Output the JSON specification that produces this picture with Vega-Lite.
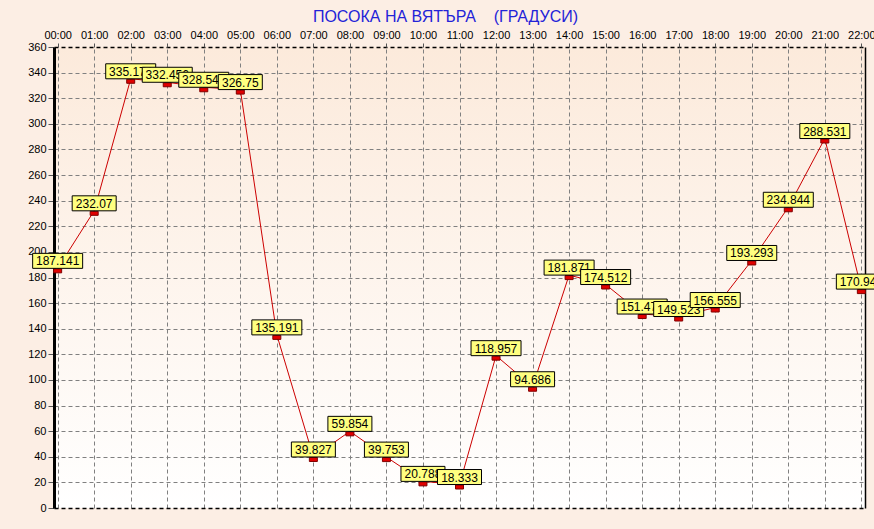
{
  "$schema": "https://vega.github.io/schema/vega-lite/v6.json",
  "width": 811,
  "height": 461,
  "autosize": "none",
  "padding": {"left": 54, "top": 47, "right": 9, "bottom": 21},
  "background": "#FCEEE4",
  "config": {
    "font": "Liberation Sans",
    "view": {
      "stroke": null,
      "fill": {"gradient": "linear", "x1": 0, "y1": 0, "x2": 0, "y2": 1,
        "stops": [{"offset": 0, "color": "#FCEADB"}, {"offset": 1, "color": "#FFFFFF"}]}
    }
  },
  "title": {
    "text": "ПОСОКА НА ВЯТЪРА\u00a0\u00a0\u00a0 (ГРАДУСИ)",
    "font": "Liberation Sans",
    "fontSize": 16,
    "fontWeight": "normal",
    "color": "#2323D8",
    "anchor": "middle",
    "dx": -14
  },
  "data": {"values": [
    {"t": "00:00", "v": 187.141},
    {"t": "01:00", "v": 232.07},
    {"t": "02:00", "v": 335.174},
    {"t": "03:00", "v": 332.456},
    {"t": "04:00", "v": 328.547},
    {"t": "05:00", "v": 326.75},
    {"t": "06:00", "v": 135.191},
    {"t": "07:00", "v": 39.827},
    {"t": "08:00", "v": 59.854},
    {"t": "09:00", "v": 39.753},
    {"t": "10:00", "v": 20.788},
    {"t": "11:00", "v": 18.333},
    {"t": "12:00", "v": 118.957},
    {"t": "13:00", "v": 94.686},
    {"t": "14:00", "v": 181.871},
    {"t": "15:00", "v": 174.512},
    {"t": "16:00", "v": 151.472},
    {"t": "17:00", "v": 149.523},
    {"t": "18:00", "v": 156.555},
    {"t": "19:00", "v": 193.293},
    {"t": "20:00", "v": 234.844},
    {"t": "21:00", "v": 288.531},
    {"t": "22:00", "v": 170.941}
  ]},
  "encoding": {
    "x": {"field": "t", "type": "ordinal", "sort": null,
      "scale": {"type": "point", "padding": 0.1},
      "axis": {"orient": "top", "title": null, "labelAngle": 0, "labelFontSize": 11, "labelColor": "#000000",
        "labelFont": "Liberation Sans", "tickSize": 4, "tickColor": "#555555", "labelPadding": 3, "domain": false,
        "grid": true, "gridColor": "#808080", "gridDash": [4, 3], "gridWidth": 1}}
  },
  "layer": [
    {
      "encoding": {
        "y": {"field": "v", "type": "quantitative",
          "scale": {"domain": [0, 360], "nice": false, "zero": true},
          "axis": {"title": null, "values": [0,20,40,60,80,100,120,140,160,180,200,220,240,260,280,300,320,340,360],
            "labelFontSize": 11, "labelColor": "#000000", "labelFont": "Liberation Sans", "tickSize": 6, "tickColor": "#555555",
            "labelPadding": 2, "domainColor": "#000000", "domainWidth": 3,
            "grid": true,
            "gridColor": {"condition": {"test": "datum.value === 0 || datum.value === 360", "value": "#000000"}, "value": "#808080"},
            "gridWidth": {"condition": {"test": "datum.value === 0 || datum.value === 360", "value": 1.5}, "value": 1},
            "gridDash": [4, 3]}}
      },
      "layer": [
        {"mark": {"type": "line", "color": "#CC0000", "strokeWidth": 1}},
        {"mark": {"type": "point", "shape": "M-4,0.5H4V4.5H-4Z", "size": 4, "filled": true, "fill": "#E00000", "stroke": "#800000", "strokeWidth": 1, "opacity": 1}},
        {"transform": [{"filter": "datum.t === '00:00'"}], "layer": [
          {"mark": {"type": "point", "shape": "M-25,-15H25V0H-25Z", "size": 4, "filled": true, "fill": "#FFFF80", "stroke": "#000000", "strokeWidth": 1, "opacity": 1}},
          {"mark": {"type": "text", "fontSize": 12, "color": "#000000", "baseline": "middle", "dy": -7}, "encoding": {"text": {"field": "v", "type": "nominal"}}}]},
        {"transform": [{"filter": "datum.t === '01:00'"}], "layer": [
          {"mark": {"type": "point", "shape": "M-22,-15H22V0H-22Z", "size": 4, "filled": true, "fill": "#FFFF80", "stroke": "#000000", "strokeWidth": 1, "opacity": 1}},
          {"mark": {"type": "text", "fontSize": 12, "color": "#000000", "baseline": "middle", "dy": -7}, "encoding": {"text": {"field": "v", "type": "nominal"}}}]},
        {"transform": [{"filter": "datum.t === '02:00'"}], "layer": [
          {"mark": {"type": "point", "shape": "M-25,-15H25V0H-25Z", "size": 4, "filled": true, "fill": "#FFFF80", "stroke": "#000000", "strokeWidth": 1, "opacity": 1}},
          {"mark": {"type": "text", "fontSize": 12, "color": "#000000", "baseline": "middle", "dy": -7}, "encoding": {"text": {"field": "v", "type": "nominal"}}}]},
        {"transform": [{"filter": "datum.t === '03:00'"}], "layer": [
          {"mark": {"type": "point", "shape": "M-25,-15H25V0H-25Z", "size": 4, "filled": true, "fill": "#FFFF80", "stroke": "#000000", "strokeWidth": 1, "opacity": 1}},
          {"mark": {"type": "text", "fontSize": 12, "color": "#000000", "baseline": "middle", "dy": -7}, "encoding": {"text": {"field": "v", "type": "nominal"}}}]},
        {"transform": [{"filter": "datum.t === '04:00'"}], "layer": [
          {"mark": {"type": "point", "shape": "M-25,-15H25V0H-25Z", "size": 4, "filled": true, "fill": "#FFFF80", "stroke": "#000000", "strokeWidth": 1, "opacity": 1}},
          {"mark": {"type": "text", "fontSize": 12, "color": "#000000", "baseline": "middle", "dy": -7}, "encoding": {"text": {"field": "v", "type": "nominal"}}}]},
        {"transform": [{"filter": "datum.t === '05:00'"}], "layer": [
          {"mark": {"type": "point", "shape": "M-22,-15H22V0H-22Z", "size": 4, "filled": true, "fill": "#FFFF80", "stroke": "#000000", "strokeWidth": 1, "opacity": 1}},
          {"mark": {"type": "text", "fontSize": 12, "color": "#000000", "baseline": "middle", "dy": -7}, "encoding": {"text": {"field": "v", "type": "nominal"}}}]},
        {"transform": [{"filter": "datum.t === '06:00'"}], "layer": [
          {"mark": {"type": "point", "shape": "M-25,-15H25V0H-25Z", "size": 4, "filled": true, "fill": "#FFFF80", "stroke": "#000000", "strokeWidth": 1, "opacity": 1}},
          {"mark": {"type": "text", "fontSize": 12, "color": "#000000", "baseline": "middle", "dy": -7}, "encoding": {"text": {"field": "v", "type": "nominal"}}}]},
        {"transform": [{"filter": "datum.t === '07:00'"}], "layer": [
          {"mark": {"type": "point", "shape": "M-22,-15H22V0H-22Z", "size": 4, "filled": true, "fill": "#FFFF80", "stroke": "#000000", "strokeWidth": 1, "opacity": 1}},
          {"mark": {"type": "text", "fontSize": 12, "color": "#000000", "baseline": "middle", "dy": -7}, "encoding": {"text": {"field": "v", "type": "nominal"}}}]},
        {"transform": [{"filter": "datum.t === '08:00'"}], "layer": [
          {"mark": {"type": "point", "shape": "M-22,-15H22V0H-22Z", "size": 4, "filled": true, "fill": "#FFFF80", "stroke": "#000000", "strokeWidth": 1, "opacity": 1}},
          {"mark": {"type": "text", "fontSize": 12, "color": "#000000", "baseline": "middle", "dy": -7}, "encoding": {"text": {"field": "v", "type": "nominal"}}}]},
        {"transform": [{"filter": "datum.t === '09:00'"}], "layer": [
          {"mark": {"type": "point", "shape": "M-22,-15H22V0H-22Z", "size": 4, "filled": true, "fill": "#FFFF80", "stroke": "#000000", "strokeWidth": 1, "opacity": 1}},
          {"mark": {"type": "text", "fontSize": 12, "color": "#000000", "baseline": "middle", "dy": -7}, "encoding": {"text": {"field": "v", "type": "nominal"}}}]},
        {"transform": [{"filter": "datum.t === '10:00'"}], "layer": [
          {"mark": {"type": "point", "shape": "M-22,-15H22V0H-22Z", "size": 4, "filled": true, "fill": "#FFFF80", "stroke": "#000000", "strokeWidth": 1, "opacity": 1}},
          {"mark": {"type": "text", "fontSize": 12, "color": "#000000", "baseline": "middle", "dy": -7}, "encoding": {"text": {"field": "v", "type": "nominal"}}}]},
        {"transform": [{"filter": "datum.t === '11:00'"}], "layer": [
          {"mark": {"type": "point", "shape": "M-22,-15H22V0H-22Z", "size": 4, "filled": true, "fill": "#FFFF80", "stroke": "#000000", "strokeWidth": 1, "opacity": 1}},
          {"mark": {"type": "text", "fontSize": 12, "color": "#000000", "baseline": "middle", "dy": -7}, "encoding": {"text": {"field": "v", "type": "nominal"}}}]},
        {"transform": [{"filter": "datum.t === '12:00'"}], "layer": [
          {"mark": {"type": "point", "shape": "M-25,-15H25V0H-25Z", "size": 4, "filled": true, "fill": "#FFFF80", "stroke": "#000000", "strokeWidth": 1, "opacity": 1}},
          {"mark": {"type": "text", "fontSize": 12, "color": "#000000", "baseline": "middle", "dy": -7}, "encoding": {"text": {"field": "v", "type": "nominal"}}}]},
        {"transform": [{"filter": "datum.t === '13:00'"}], "layer": [
          {"mark": {"type": "point", "shape": "M-22,-15H22V0H-22Z", "size": 4, "filled": true, "fill": "#FFFF80", "stroke": "#000000", "strokeWidth": 1, "opacity": 1}},
          {"mark": {"type": "text", "fontSize": 12, "color": "#000000", "baseline": "middle", "dy": -7}, "encoding": {"text": {"field": "v", "type": "nominal"}}}]},
        {"transform": [{"filter": "datum.t === '14:00'"}], "layer": [
          {"mark": {"type": "point", "shape": "M-25,-15H25V0H-25Z", "size": 4, "filled": true, "fill": "#FFFF80", "stroke": "#000000", "strokeWidth": 1, "opacity": 1}},
          {"mark": {"type": "text", "fontSize": 12, "color": "#000000", "baseline": "middle", "dy": -7}, "encoding": {"text": {"field": "v", "type": "nominal"}}}]},
        {"transform": [{"filter": "datum.t === '15:00'"}], "layer": [
          {"mark": {"type": "point", "shape": "M-25,-15H25V0H-25Z", "size": 4, "filled": true, "fill": "#FFFF80", "stroke": "#000000", "strokeWidth": 1, "opacity": 1}},
          {"mark": {"type": "text", "fontSize": 12, "color": "#000000", "baseline": "middle", "dy": -7}, "encoding": {"text": {"field": "v", "type": "nominal"}}}]},
        {"transform": [{"filter": "datum.t === '16:00'"}], "layer": [
          {"mark": {"type": "point", "shape": "M-25,-15H25V0H-25Z", "size": 4, "filled": true, "fill": "#FFFF80", "stroke": "#000000", "strokeWidth": 1, "opacity": 1}},
          {"mark": {"type": "text", "fontSize": 12, "color": "#000000", "baseline": "middle", "dy": -7}, "encoding": {"text": {"field": "v", "type": "nominal"}}}]},
        {"transform": [{"filter": "datum.t === '17:00'"}], "layer": [
          {"mark": {"type": "point", "shape": "M-25,-15H25V0H-25Z", "size": 4, "filled": true, "fill": "#FFFF80", "stroke": "#000000", "strokeWidth": 1, "opacity": 1}},
          {"mark": {"type": "text", "fontSize": 12, "color": "#000000", "baseline": "middle", "dy": -7}, "encoding": {"text": {"field": "v", "type": "nominal"}}}]},
        {"transform": [{"filter": "datum.t === '18:00'"}], "layer": [
          {"mark": {"type": "point", "shape": "M-25,-15H25V0H-25Z", "size": 4, "filled": true, "fill": "#FFFF80", "stroke": "#000000", "strokeWidth": 1, "opacity": 1}},
          {"mark": {"type": "text", "fontSize": 12, "color": "#000000", "baseline": "middle", "dy": -7}, "encoding": {"text": {"field": "v", "type": "nominal"}}}]},
        {"transform": [{"filter": "datum.t === '19:00'"}], "layer": [
          {"mark": {"type": "point", "shape": "M-25,-15H25V0H-25Z", "size": 4, "filled": true, "fill": "#FFFF80", "stroke": "#000000", "strokeWidth": 1, "opacity": 1}},
          {"mark": {"type": "text", "fontSize": 12, "color": "#000000", "baseline": "middle", "dy": -7}, "encoding": {"text": {"field": "v", "type": "nominal"}}}]},
        {"transform": [{"filter": "datum.t === '20:00'"}], "layer": [
          {"mark": {"type": "point", "shape": "M-25,-15H25V0H-25Z", "size": 4, "filled": true, "fill": "#FFFF80", "stroke": "#000000", "strokeWidth": 1, "opacity": 1}},
          {"mark": {"type": "text", "fontSize": 12, "color": "#000000", "baseline": "middle", "dy": -7}, "encoding": {"text": {"field": "v", "type": "nominal"}}}]},
        {"transform": [{"filter": "datum.t === '21:00'"}], "layer": [
          {"mark": {"type": "point", "shape": "M-25,-15H25V0H-25Z", "size": 4, "filled": true, "fill": "#FFFF80", "stroke": "#000000", "strokeWidth": 1, "opacity": 1}},
          {"mark": {"type": "text", "fontSize": 12, "color": "#000000", "baseline": "middle", "dy": -7}, "encoding": {"text": {"field": "v", "type": "nominal"}}}]},
        {"transform": [{"filter": "datum.t === '22:00'"}], "layer": [
          {"mark": {"type": "point", "shape": "M-25,-15H25V0H-25Z", "size": 4, "filled": true, "fill": "#FFFF80", "stroke": "#000000", "strokeWidth": 1, "opacity": 1}},
          {"mark": {"type": "text", "fontSize": 12, "color": "#000000", "baseline": "middle", "dy": -7}, "encoding": {"text": {"field": "v", "type": "nominal"}}}]}
      ]
    },
    {"mark": {"type": "point", "opacity": 0},
      "encoding": {"y": {"field": "v", "type": "quantitative",
        "axis": {"orient": "right", "title": null, "labels": false, "ticks": false, "grid": false, "domainColor": "#000000", "domainWidth": 1.5}}}}
  ],
  "resolve": {"axis": {"y": "independent"}}
}
